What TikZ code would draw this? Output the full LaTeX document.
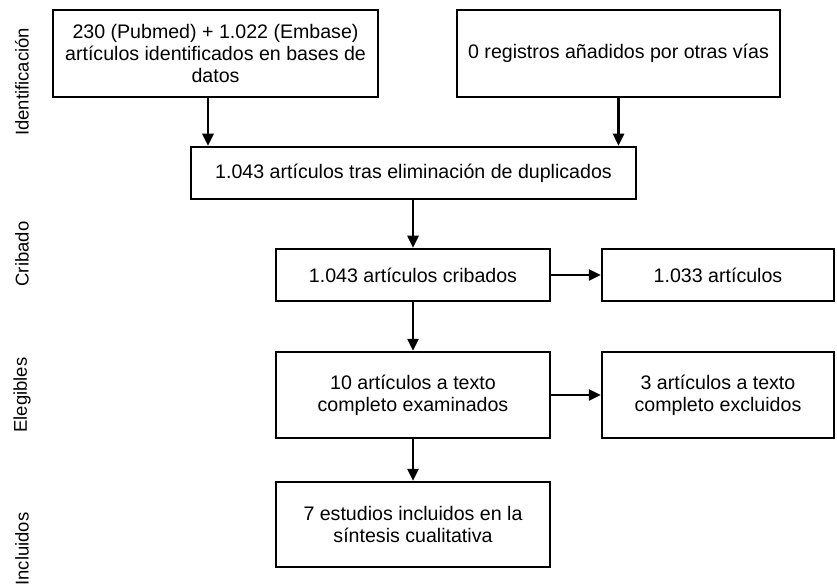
\documentclass[tikz,border=0pt]{standalone}
\usepackage{fontspec}
\setmainfont{Liberation Sans}
\usetikzlibrary{arrows.meta,positioning}
\tikzset{box/.style={draw=black,line width=2.5pt,fill=white,align=center,
                     font=\fontsize{19.6}{22}\selectfont,inner sep=2pt},
        phase/.style={rotate=90,font=\fontsize{18.5}{22}\selectfont,inner sep=0pt},
        flow/.style={line width=2.5pt,-{Triangle[length=12pt,width=11pt]}},
        }

\begin{document}
\begin{tikzpicture}[x=1pt,y=-1pt]
    \useasboundingbox (0,0) rectangle (837,585);

    % phases
    \node[phase] (ident) at (22,82) {Identificación};
    \node[phase] (crib) at (22,254) {Cribado};
    \node[phase] (eleg) at (22,395) {Elegibles};
    \node[phase] (incl) at (22,549) {Incluidos};

    % boxes
    \node[box,minimum width=325pt,minimum height=87pt] (bases) at (215.5,53.5)
        {230 (Pubmed) + 1.022 (Embase)\\artículos identificados en bases de\\datos};
    \node[box,minimum width=323pt,minimum height=87pt] (otras) at (618.5,53.5)
        {0 registros añadidos por otras vías};
    \node[box,minimum width=445pt,minimum height=52pt] (dupl) at (413.5,173)
        {1.043 artículos tras eliminación de duplicados};
    \node[box,minimum width=274pt,minimum height=52pt] (cribados) at (413,275)
        {1.043 artículos cribados};
    \node[box,minimum width=232pt,minimum height=52pt] (excl) at (718,275)
        {1.033 artículos};
    \node[box,minimum width=274pt,minimum height=86pt] (examin) at (413,395)
        {10 artículos a texto\\completo examinados};
    \node[box,minimum width=232pt,minimum height=86pt] (textexcl) at (718,395)
        {3 artículos a texto\\completo excluidos};
    \node[box,minimum width=274pt,minimum height=85pt] (incluidos) at (413,524.5)
        {7 estudios incluidos en la\\síntesis cualitativa};

    % arrows
    \draw[flow] ([xshift=-7.5pt]bases.south) -- ([xshift=-7.5pt]bases.south |- dupl.north);
    \draw[flow] (otras.south) -- (otras.south |- dupl.north);
    \draw[flow] (dupl.south -| cribados.north) -- (cribados.north);
    \draw[flow] (cribados) -- (excl);
    \draw[flow] (cribados) -- (examin);
    \draw[flow] (examin) -- (textexcl);
    \draw[flow] (examin) -- (incluidos);
\end{tikzpicture}
\end{document}
